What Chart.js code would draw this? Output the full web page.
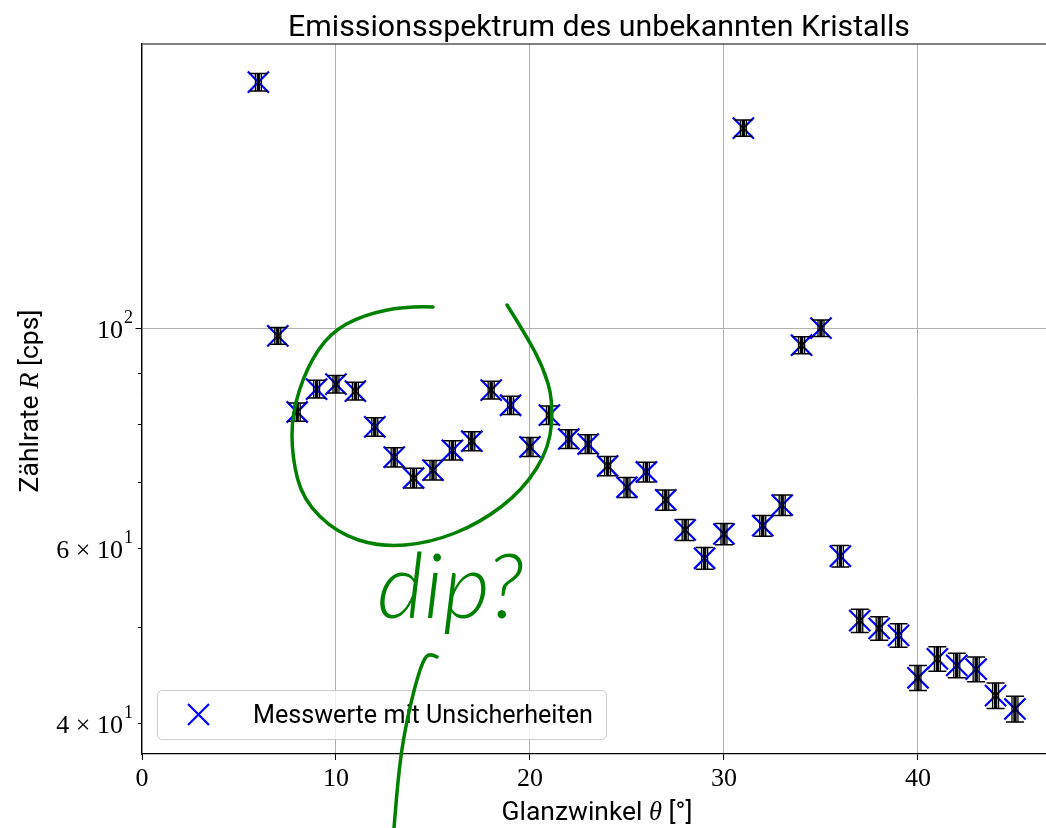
<!DOCTYPE html>
<html><head><meta charset="utf-8">
<script src="https://cdn.jsdelivr.net/npm/chart.js@4/dist/chart.umd.min.js"></script>
<style>html,body{margin:0;padding:0;background:#fff}canvas{display:block}</style>
</head><body>
<canvas id="c" width="1046" height="828"></canvas>
<script>
// ---- data ----
const angles = [6,7,8,9,10,11,12,13,14,15,16,17,18,19,20,21,22,23,24,25,26,27,28,29,30,31,32,33,34,35,36,37,38,39,40,41,42,43,44,45];
const rates = [177,98.2,82.3,86.8,87.8,86.4,79.5,74.1,70.6,71.9,75.3,76.9,86.6,83.6,75.9,81.7,77.3,76.4,72.6,69.1,71.6,67.1,62.6,58.6,62.0,159.1,63.2,66.3,96.1,100,58.9,50.7,49.8,49.0,44.4,46.4,45.7,45.3,42.6,41.3];
const uncertainties = [3.6,1.91,1.75,1.79,1.80,1.79,1.72,1.66,1.62,1.63,1.67,1.69,1.79,1.76,1.68,1.74,1.69,1.68,1.64,1.60,1.63,1.58,1.52,1.47,1.52,3.0,1.53,1.57,1.89,1.92,1.48,1.37,1.36,1.35,1.28,1.31,1.30,1.30,1.26,1.24];
const xTicks = [0,10,20,30,40];
const yTickValues = [40,50,60,70,80,90,100];
const yTickLabels = ['4 × 10^1','','6 × 10^1','','','','10^2'];
const yMajor = [100];
const chartTitle = 'Emissionsspektrum des unbekannten Kristalls';
const legendLabel = 'Messwerte mit Unsicherheiten';
const annotationText = 'dip?';

// ---- style ----
const SANS = "Roboto, 'Open Sans', sans-serif";
const SERIF = "'Liberation Serif', 'DejaVu Serif', serif";
const GREEN = '#008000';

function drawParts(ctx, parts, base, target, x, y, align) {
  let w = 0;
  parts.forEach(p => { ctx.font = `${p.style||''} ${base}px ${p.family}`; w += ctx.measureText(p.text).width; });
  const size = base * target / w;
  let tw = 0;
  parts.forEach(p => { ctx.font = `${p.style||''} ${size}px ${p.family}`; tw += ctx.measureText(p.text).width; });
  let cx = align === 'center' ? x - tw/2 : (align === 'right' ? x - tw : x);
  ctx.textAlign = 'left';
  parts.forEach(p => { ctx.font = `${p.style||''} ${size}px ${p.family}`; ctx.fillText(p.text, cx, y); cx += ctx.measureText(p.text).width; });
}

function smoothPath(ctx, pts) {
  ctx.beginPath();
  ctx.moveTo(pts[0][0], pts[0][1]);
  for (let i = 1; i < pts.length - 1; i++) {
    const mx = (pts[i][0] + pts[i+1][0]) / 2, my = (pts[i][1] + pts[i+1][1]) / 2;
    ctx.quadraticCurveTo(pts[i][0], pts[i][1], mx, my);
  }
  const l = pts[pts.length-1];
  ctx.lineTo(l[0], l[1]);
  ctx.stroke();
}

const decor = {
  id: 'decor',
  afterDatasetsDraw(chart) {
    const ctx = chart.ctx, xs = chart.scales.x, ys = chart.scales.y, ca = chart.chartArea;
    ctx.save();
    // error bars
    ctx.strokeStyle = '#000';
    angles.forEach((a, i) => {
      const px = xs.getPixelForValue(a);
      const t = ys.getPixelForValue(rates[i] + uncertainties[i]);
      const b = ys.getPixelForValue(rates[i] - uncertainties[i]);
      [[-3,1.3],[0,3.4],[3,1.3]].forEach(([o,w]) => {
        ctx.lineWidth = w; ctx.beginPath(); ctx.moveTo(px+o, t); ctx.lineTo(px+o, b); ctx.stroke();
      });
      ctx.lineWidth = 1.5;
      ctx.beginPath();
      ctx.moveTo(px-9, t); ctx.lineTo(px+9, t);
      ctx.moveTo(px-9, b); ctx.lineTo(px+9, b);
      ctx.stroke();
    });
    // top spine
    ctx.lineWidth = 1.2; ctx.strokeStyle = '#000';
    ctx.beginPath(); ctx.moveTo(ca.left, ca.top); ctx.lineTo(ca.right, ca.top); ctx.stroke();
    // y tick marks (major longer) and labels
    ctx.lineWidth = 1; ctx.fillStyle = '#000'; ctx.textBaseline = 'alphabetic';
    yTickValues.forEach((v, k) => {
      const py = Math.round(ys.getPixelForValue(v)) + 0.5;
      const len = yMajor.includes(v) ? 6.5 : 4;
      ctx.beginPath(); ctx.moveTo(ca.left - len, py); ctx.lineTo(ca.left, py); ctx.stroke();
      const lab = yTickLabels[k];
      if (!lab) return;
      const [base, exp] = lab.split('^');
      ctx.font = `18px ${SERIF}`;
      const ew = ctx.measureText(exp).width;
      const right = 133;
      ctx.textAlign = 'left';
      ctx.fillText(exp, right - ew, py - 6);
      ctx.font = `26px ${SERIF}`;
      ctx.textAlign = 'right';
      ctx.fillText(base, right - ew - 1, py + 9);
    });
    ctx.restore();
  },
  afterDraw(chart) {
    const ctx = chart.ctx;
    ctx.save();
    // legend
    const lx = 157, ly = 690, lw = 449, lh = 49;
    ctx.beginPath(); ctx.roundRect(lx + 0.5, ly + 0.5, lw, lh, 5);
    ctx.fillStyle = 'rgba(255,255,255,0.8)'; ctx.fill();
    ctx.strokeStyle = '#cccccc'; ctx.lineWidth = 1; ctx.stroke();
    ctx.strokeStyle = '#0000ff'; ctx.lineWidth = 2.2;
    ctx.beginPath();
    ctx.moveTo(188, 704); ctx.lineTo(209, 725);
    ctx.moveTo(209, 704); ctx.lineTo(188, 725);
    ctx.stroke();
    ctx.fillStyle = '#000'; ctx.textBaseline = 'alphabetic';
    drawParts(ctx, [{text: legendLabel, family: SANS}], 28, 340, 253, 723, 'left');
    // title
    drawParts(ctx, [{text: chartTitle, family: SANS}], 30, 622, 599, 36, 'center');
    // x title
    drawParts(ctx, [{text:'Glanzwinkel ', family:SANS},{text:'θ', style:'italic', family:SERIF},{text:' [°]', family:SANS}], 26, 191, 597, 820, 'center');
    // y title
    ctx.save();
    ctx.translate(38, 401); ctx.rotate(-Math.PI/2);
    drawParts(ctx, [{text:'Zählrate ', family:SANS},{text:'R', style:'italic', family:SERIF},{text:' [cps]', family:SANS}], 26, 183, 0, 0, 'center');
    ctx.restore();
    // green hand annotation
    ctx.strokeStyle = GREEN; ctx.lineWidth = 3.5; ctx.lineCap = 'round'; ctx.lineJoin = 'round';
    smoothPath(ctx, [[433,307],[407,306],[363,315],[330,333],[307,367],[292,413],[292,457],[303,500],[337,533],[380,547],[430,543],[480,523],[523,490],[550,447],[553,400],[543,367],[527,337],[507,305]]);
    smoothPath(ctx, [[437,657],[430,653],[423,660],[413,693],[403,740],[398,780],[394,828]]);
    ctx.fillStyle = GREEN;
    drawParts(ctx, [{text: annotationText, style:'italic 300', family:"Lato, 'DejaVu Sans', sans-serif"}], 76, 147, 377, 618, 'left');
    ctx.restore();
  }
};

new Chart(document.getElementById('c'), {
  type: 'scatter',
  data: {
    datasets: [{
      label: legendLabel,
      data: angles.map((a, i) => ({x: a, y: rates[i]})),
      pointStyle: 'crossRot',
      pointRadius: 15,
      pointHoverRadius: 15,
      borderColor: '#0000ff',
      backgroundColor: '#0000ff',
      pointBorderWidth: 2.2,
      showLine: false
    }]
  },
  options: {
    responsive: false,
    animation: false,
    devicePixelRatio: 1,
    layout: {autoPadding: false, padding: {top: 44, left: 0, right: 0, bottom: 0}},
    plugins: {legend: {display: false}, tooltip: {enabled: false}, title: {display: false}},
    scales: {
      x: {
        type: 'linear', min: 0, max: 46.6,
        afterBuildTicks: s => { s.ticks = xTicks.map(v => ({value: v})); },
        afterFit: s => { s.height = 74; s.paddingLeft = 0; s.paddingRight = 0; },
        grid: {color: '#b0b0b0', lineWidth: 1, tickColor: '#000', tickLength: 6, drawTicks: true},
        border: {display: true, color: '#000', width: 1.2},
        ticks: {font: {family: SERIF, size: 26}, color: '#000', padding: 4, maxRotation: 0, autoSkip: false,
                callback: v => String(v)}
      },
      y: {
        type: 'logarithmic', min: 37.2, max: 193.4,
        afterBuildTicks: s => { s.ticks = yTickValues.map(v => ({value: v, major: yMajor.includes(v)})); },
        afterFit: s => { s.width = 142; s.paddingTop = 0; s.paddingBottom = 0; },
        grid: {color: c => (c.tick && yMajor.includes(c.tick.value)) ? '#b0b0b0' : 'rgba(0,0,0,0)', lineWidth: 1, drawTicks: false},
        border: {display: true, color: '#000', width: 1.2},
        ticks: {display: false}
      }
    }
  },
  plugins: [decor]
});
</script>
</body></html>
